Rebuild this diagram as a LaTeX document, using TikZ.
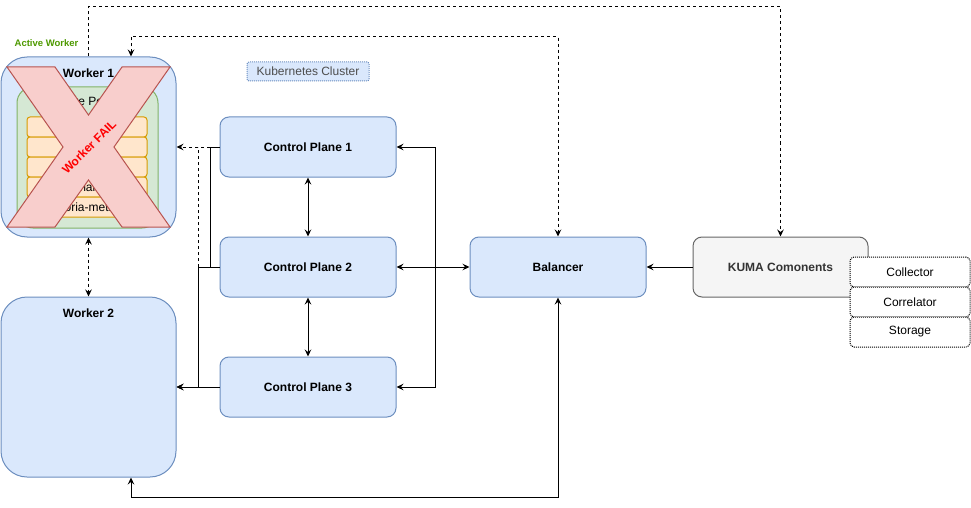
\documentclass[tikz,border=0pt]{standalone}
\usepackage{fontspec}
\setmainfont{Liberation Sans}
\usetikzlibrary{arrows.meta,calc}
\definecolor{bfill}{HTML}{DAE8FC}
\definecolor{bdraw}{HTML}{6C8EBF}
\definecolor{gfill}{HTML}{D5E8D4}
\definecolor{gdraw}{HTML}{82B366}
\definecolor{ofill}{HTML}{FFE6CC}
\definecolor{odraw}{HTML}{D79B00}
\definecolor{rfill}{HTML}{F8CECC}
\definecolor{rdraw}{HTML}{B85450}
\definecolor{kfill}{HTML}{F5F5F5}
\definecolor{kdraw}{HTML}{666666}
\definecolor{ktext}{HTML}{333333}
\definecolor{awgreen}{HTML}{4D9900}
\definecolor{cltext}{HTML}{4D4D4D}
\begin{document}
\begin{tikzpicture}[x=1pt,y=-1pt,line width=1pt,
  font=\fontsize{12}{14}\selectfont,
  tip/.tip={Stealth[length=7pt,width=6.5pt,inset=2.5pt]},
  bluebox/.style={draw=bdraw,fill=bfill,rounded corners=9pt,minimum width=176pt,minimum height=60pt,inner sep=0pt,font=\fontsize{12}{14}\selectfont\bfseries},
  workerbox/.style={draw=bdraw,fill=bfill,rounded corners=26pt,minimum width=175pt,minimum height=180pt,inner sep=0pt},
  rowbox/.style={draw=odraw,fill=ofill,rounded corners=3pt,minimum width=120pt,minimum height=20pt,inner sep=0pt},
  subbox/.style={draw=black,densely dotted,fill=white,rounded corners=4pt,minimum width=120pt,minimum height=30pt,inner sep=0pt},
  conn/.style={draw=black,line width=1pt},
  dconn/.style={draw=black,line width=1pt,dash pattern=on 3pt off 3pt},
]
\useasboundingbox (0,0) rectangle (971,508);

% Worker 1
\node[workerbox] (w1) at (88.5,147) {};
\node[draw=gdraw,fill=gfill,rounded corners=16pt,minimum width=141pt,minimum height=141pt,inner sep=0pt] (core) at (87.5,157.5) {};
\node (coret) at (87.5,101) {Core Pods};
\node[rowbox] (r1) at (87,127) {};
\node[rowbox] (r2) at (87,147) {};
\node[rowbox] (r3) at (87,167) {};
\node[rowbox] (r4) at (87,187) {mail};
\node[rowbox] (r5) at (87,207) {victoria-metrics};

% Failure cross
\filldraw[draw=rdraw,fill=rfill,line width=1pt,line join=miter]
  (7,67) -- (55,67) -- (88.5,115) -- (122,67) -- (170,67) -- (114,147)
  -- (170,227) -- (122,227) -- (88.5,180) -- (55,227) -- (7,227) -- (63,147) -- cycle;
\node[text=red,rotate=45,font=\fontsize{12}{14}\selectfont\bfseries] (fail) at (89,147) {Worker FAIL};
\node[font=\fontsize{12}{14}\selectfont\bfseries] (w1t) at (88.5,73) {Worker 1};

% Active worker label
\node[text=awgreen,font=\fontsize{9.5}{11}\selectfont\bfseries] (aw) at (46.5,43) {Active Worker};

% Worker 2
\node[workerbox] (w2) at (88.5,387) {};
\node[font=\fontsize{12}{14}\selectfont\bfseries] (w2t) at (88.5,313) {Worker 2};

% Kubernetes cluster label
\node[draw=bdraw,densely dotted,fill=bfill,rounded corners=2pt,minimum width=122pt,minimum height=19pt,inner sep=0pt,text=cltext] (k8s) at (308,71.5) {Kubernetes Cluster};

% Control planes
\node[bluebox] (cp1) at (308,147) {Control Plane 1};
\node[bluebox] (cp2) at (308,267) {Control Plane 2};
\node[bluebox] (cp3) at (308,387) {Control Plane 3};

% Balancer
\node[bluebox] (bal) at (558,267) {Balancer};

% KUMA
\node[draw=kdraw,fill=kfill,rounded corners=9pt,minimum width=175pt,minimum height=60pt,inner sep=0pt,text=ktext,font=\fontsize{12}{14}\selectfont\bfseries] (kuma) at (780.5,267) {KUMA Comonents};
\node[subbox] (col) at (910,272) {Collector};
\node[subbox] (cor) at (910,302) {Correlator};
\node[subbox] (sto) at (910,332) {Storage};

% Coordinates
\coordinate (j1) at (210,147);
\coordinate (j2) at (198,267);
\coordinate (jb) at (435,267);

% Dashed links over the top
\draw[dconn,-{tip}] (w1.north) -- (88.5,7) -| (kuma.north);
\draw[dconn,{tip}-{tip}] ($(w1.north)+(42.5,0)$) -- ++(0,-20) -| (bal.north);
\draw[dconn,{tip}-{tip}] (w1.south) -- (w2.north);

% Control planes to workers
\draw[dconn,-{tip}] (j1) -- (w1.east |- j1);
\draw[dconn] (j2) -- (198,147);
\draw[conn] (cp1.west) -- (j1) -- (210,267);
\draw[conn,-{tip}] (cp2.west) -- (j2) |- (w2.east |- cp3.west);
\draw[conn,-{tip}] (cp3.west) -- (w2.east |- cp3.west);

% Between control planes
\draw[conn,{tip}-{tip}] (cp1.south) -- (cp2.north);
\draw[conn,{tip}-{tip}] (cp2.south) -- (cp3.north);

% Balancer to control planes
\draw[conn,{tip}-{tip}] (cp2.east) -- (bal.west);
\draw[conn,-{tip}] (jb) |- (cp1.east);
\draw[conn,-{tip}] (jb) |- (cp3.east);

% KUMA to balancer
\draw[conn,-{tip}] (kuma.west) -- (bal.east);

% Balancer to worker 2 (bottom)
\draw[conn,{tip}-{tip}] (bal.south) -- (558,497) -| ($(w2.south)+(42.5,0)$);
\end{tikzpicture}
\end{document}
